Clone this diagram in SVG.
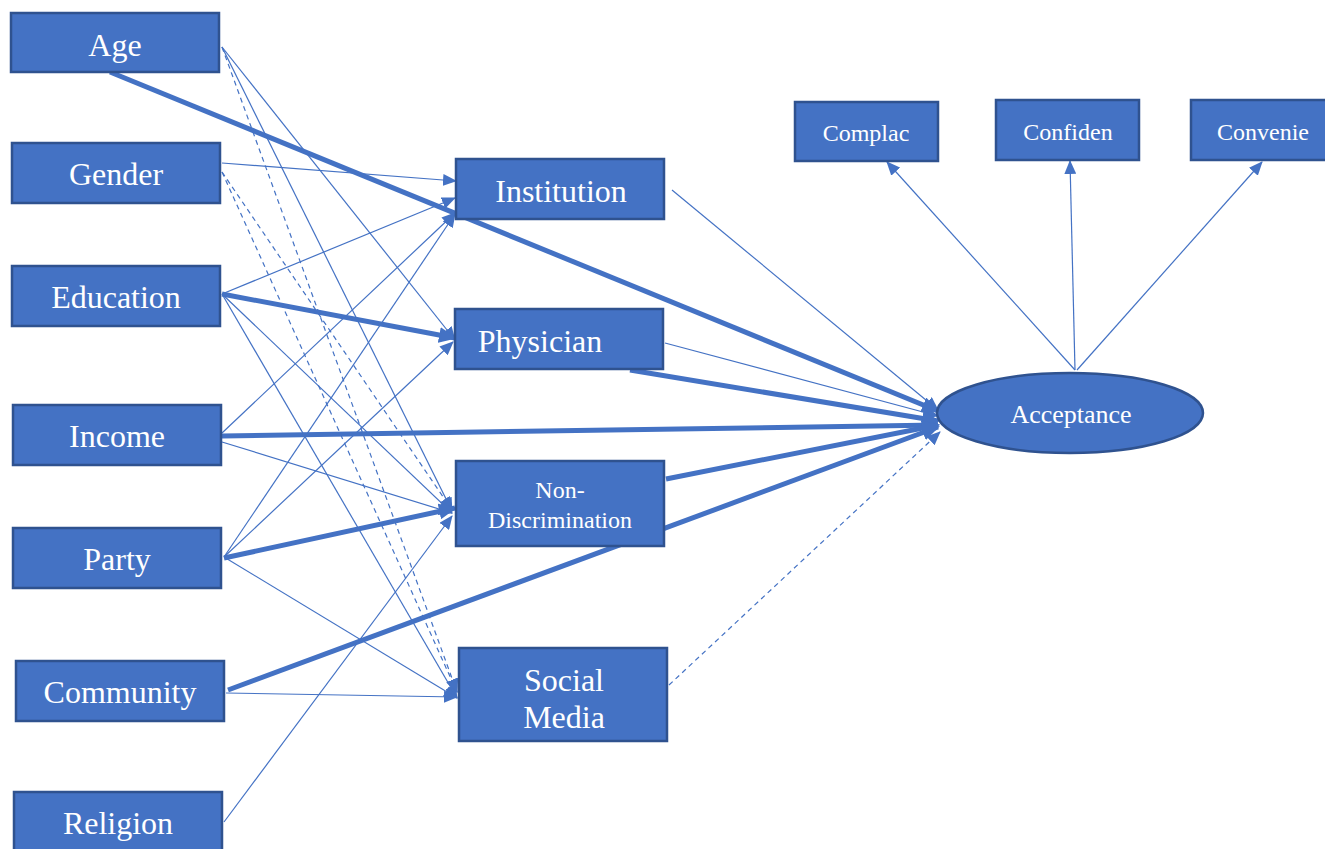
<svg xmlns="http://www.w3.org/2000/svg" width="1325" height="849" viewBox="0 0 1325 849">
<style>
.box{fill:#4472C4;stroke:#2F528F;stroke-width:2.5}
.t{font-family:"Liberation Serif","Times New Roman",serif;fill:#fff;text-anchor:middle}
.big{font-size:32px}
.mid{font-size:26px}
.sm{font-size:24px}
.c{stroke:#4472C4;fill:none}
.thin{stroke-width:1.2;marker-end:url(#ah)}
.dash{stroke-width:1.2;stroke-dasharray:5 4;marker-end:url(#ah)}
.thick{stroke-width:5;marker-end:url(#ahb)}
</style>
<defs>
<marker id="ah" viewBox="0 0 14 12" refX="13" refY="6" markerWidth="14" markerHeight="12" markerUnits="userSpaceOnUse" orient="auto">
<path d="M0,0 L14,6 L0,12 z" fill="#4472C4"/>
</marker>
<marker id="ahb" viewBox="0 0 18 16" refX="16" refY="8" markerWidth="18" markerHeight="16" markerUnits="userSpaceOnUse" orient="auto">
<path d="M0,0 L18,8 L0,16 z" fill="#4472C4"/>
</marker>
</defs>
<rect width="1325" height="849" fill="#fff"/>
<g id="connectors">
<line class="c thin" x1="222" y1="47" x2="455" y2="340"/>
<line class="c thin" x1="222" y1="47" x2="452" y2="511"/>
<line class="c thin" x1="222" y1="163" x2="456" y2="181"/>
<line class="c thin" x1="222" y1="294" x2="455" y2="198"/>
<line class="c thin" x1="222" y1="294" x2="452" y2="513"/>
<line class="c thin" x1="222" y1="294" x2="457" y2="698"/>
<line class="c thin" x1="222" y1="442" x2="452" y2="513"/>
<line class="c thin" x1="222" y1="433" x2="455" y2="213"/>
<line class="c thin" x1="224" y1="557" x2="455" y2="214"/>
<line class="c thin" x1="224" y1="557" x2="453" y2="342"/>
<line class="c thin" x1="224" y1="557" x2="457" y2="698"/>
<line class="c thin" x1="226" y1="693" x2="457" y2="697"/>
<line class="c thin" x1="224" y1="822" x2="452" y2="516"/>
<line class="c thin" x1="672" y1="190" x2="938" y2="410"/>
<line class="c thin" x1="665" y1="343" x2="938" y2="416"/>
<line class="c thin" x1="1075" y1="370" x2="887" y2="162"/>
<line class="c thin" x1="1075" y1="370" x2="1070" y2="161"/>
<line class="c thin" x1="1077" y1="370" x2="1262" y2="162"/>
<line class="c dash" x1="222" y1="47" x2="457" y2="692"/>
<line class="c dash" x1="222" y1="172" x2="457" y2="692"/>
<line class="c dash" x1="222" y1="172" x2="452" y2="510"/>
<line class="c dash" x1="669" y1="685" x2="940" y2="432"/>
<line class="c thick" x1="110" y1="72" x2="938" y2="411"/>
<line class="c thick" x1="222" y1="294" x2="455" y2="338"/>
<line class="c thick" x1="222" y1="436" x2="938" y2="425"/>
<line class="c thick" x1="224" y1="558" x2="455" y2="508"/>
<line class="c thick" x1="228" y1="690" x2="938" y2="427"/>
<line class="c thick" x1="630" y1="370" x2="938" y2="421"/>
<line class="c thick" x1="666" y1="479" x2="938" y2="425"/>
</g>
<g id="age"><rect class="box" x="11" y="13" width="208" height="59"/><text class="t big" x="115" y="56">Age</text></g>
<g id="gender"><rect class="box" x="12" y="143" width="208" height="60"/><text class="t big" x="116" y="185">Gender</text></g>
<g id="education"><rect class="box" x="12" y="266" width="208" height="60"/><text class="t big" x="116" y="308">Education</text></g>
<g id="income"><rect class="box" x="13" y="405" width="208" height="60"/><text class="t big" x="117" y="447">Income</text></g>
<g id="party"><rect class="box" x="13" y="528" width="208" height="60"/><text class="t big" x="117" y="570">Party</text></g>
<g id="community"><rect class="box" x="16" y="661" width="208" height="60"/><text class="t big" x="120" y="703">Community</text></g>
<g id="religion"><rect class="box" x="14" y="792" width="208" height="60"/><text class="t big" x="118" y="834">Religion</text></g>
<g id="institution"><rect class="box" x="456" y="159" width="208" height="60"/><text class="t big" x="561" y="202">Institution</text></g>
<g id="physician"><rect class="box" x="455" y="309" width="208" height="60"/><text class="t big" x="540" y="352">Physician</text></g>
<g id="nondiscrimination"><rect class="box" x="456" y="461" width="208" height="85"/><text class="t sm" x="560" y="498">Non-</text><text class="t sm" x="560" y="528">Discrimination</text></g>
<g id="socialmedia"><rect class="box" x="459" y="648" width="208" height="93"/><text class="t big" x="564" y="691">Social</text><text class="t big" x="564" y="728">Media</text></g>
<g id="acceptance"><ellipse class="box" cx="1070" cy="413" rx="133" ry="40"/><text class="t mid" x="1071" y="423">Acceptance</text></g>
<g id="complac"><rect class="box" x="795" y="102" width="143" height="59"/><text class="t sm" x="866" y="141">Complac</text></g>
<g id="confiden"><rect class="box" x="996" y="100" width="143" height="60"/><text class="t sm" x="1068" y="140">Confiden</text></g>
<g id="convenie"><rect class="box" x="1191" y="100" width="140" height="60"/><text class="t sm" x="1263" y="140">Convenie</text></g>
</svg>
